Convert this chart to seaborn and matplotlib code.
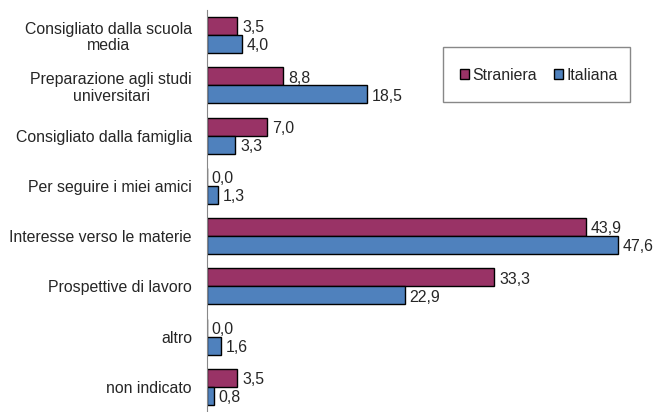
import matplotlib
matplotlib.use("Agg")
import matplotlib.pyplot as plt
from matplotlib.patches import Rectangle
import seaborn as sns
import pandas as pd

categories = [
    "Consigliato dalla scuola\nmedia",
    "Preparazione agli studi\nuniversitari",
    "Consigliato dalla famiglia",
    "Per seguire i miei amici",
    "Interesse verso le materie",
    "Prospettive di lavoro",
    "altro",
    "non indicato",
]
straniera = [3.5, 8.8, 7.0, 0.0, 43.9, 33.3, 0.0, 3.5]
italiana = [4.0, 18.5, 3.3, 1.3, 47.6, 22.9, 1.6, 0.8]
series = ["Straniera", "Italiana"]
colors = ["#993366", "#4F81BD"]

df = pd.DataFrame({
    "categoria": categories * 2,
    "valore": straniera + italiana,
    "gruppo": [series[0]] * len(categories) + [series[1]] * len(categories),
})

sns.set_style("white")
plt.rcParams["font.family"] = ["Liberation Sans", "DejaVu Sans"]
fs = 11.4

fig = plt.figure(figsize=(6.6, 4.12), dpi=100)
ax = fig.add_axes([0.3136, 0.0, 0.654, 0.9757])

sns.barplot(data=df, y="categoria", x="valore", hue="gruppo", hue_order=series,
            palette=colors, orient="h", width=0.72, edgecolor="black",
            linewidth=1.0, saturation=1, ax=ax)

# etichette dei valori con virgola decimale
for cont in ax.containers:
    labels = [f"{v:.1f}".replace(".", ",") for v in cont.datavalues]
    texts = ax.bar_label(cont, labels=labels, padding=3.5, fontsize=fs)
    for t in texts:
        t.xyann = (3.5, -1.2)

ax.set_xlim(0, 50)
ax.set_ylim(len(categories) - 0.5, -0.5)
ax.set_xlabel("")
ax.set_ylabel("")
ax.set_xticks([])
ax.tick_params(axis="y", length=0, labelsize=fs, pad=10.8)
for lab in ax.get_yticklabels():
    lab.set_horizontalalignment("right")
    lab.set_multialignment("center")
    lab.set_linespacing(1.15)
for side in ["top", "right", "bottom"]:
    ax.spines[side].set_visible(False)
ax.spines["left"].set_color("#888888")

# legenda con riquadro
ax.legend_.remove()
handles, labs = ax.get_legend_handles_labels()
fig.legend(handles, labs, loc="center", bbox_to_anchor=(539 / 660, 1 - 75 / 412),
           ncol=2, frameon=False, fontsize=fs,
           handlelength=0.55, handleheight=0.55, handletextpad=0.25,
           columnspacing=1.05, borderpad=0)
fig.add_artist(Rectangle((443 / 660, 1 - 102 / 412), 187 / 660, 55 / 412,
                         transform=fig.transFigure, fill=False,
                         edgecolor="#888888", linewidth=1.0))

fig.savefig("out.png", dpi=100)
